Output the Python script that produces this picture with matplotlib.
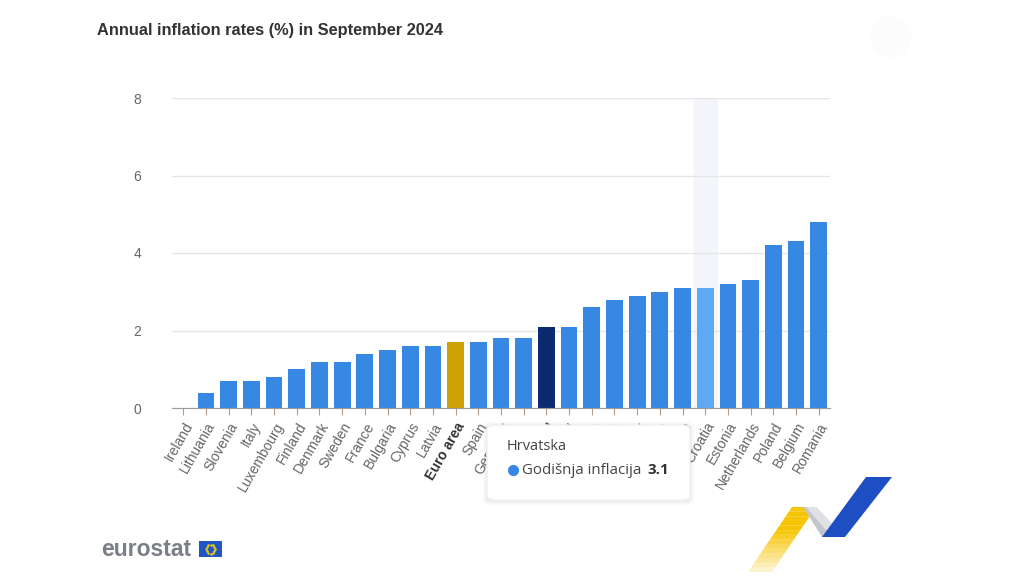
import numpy as np
import matplotlib
matplotlib.use('Agg')
import matplotlib.pyplot as plt
from matplotlib.patches import FancyBboxPatch, Polygon, Rectangle

countries = ['Ireland', 'Lithuania', 'Slovenia', 'Italy', 'Luxembourg', 'Finland',
             'Denmark', 'Sweden', 'France', 'Bulgaria', 'Cyprus', 'Latvia',
             'Euro area', 'Spain', 'Germany', 'Malta', 'EU', 'Portugal', 'Czechia',
             'Austria', 'Hungary', 'Slovakia', 'Greece', 'Croatia', 'Estonia',
             'Netherlands', 'Poland', 'Belgium', 'Romania']
rates = [0.0, 0.4, 0.7, 0.7, 0.8, 1.0, 1.2, 1.2, 1.4, 1.5, 1.6, 1.6,
         1.7, 1.7, 1.8, 1.8, 2.1, 2.1, 2.6, 2.8, 2.9, 3.0, 3.1, 3.1, 3.2,
         3.3, 4.2, 4.3, 4.8]
yticks = [0, 2, 4, 6, 8]

hover = 'Croatia'
tip_title = 'Hrvatska'
tip_series = 'Godišnja inflacija'

plt.rcParams['font.family'] = ['Liberation Sans', 'DejaVu Sans']

W, H = 1024, 576
fig = plt.figure(figsize=(W / 100, H / 100), dpi=100)
ax = fig.add_axes([172 / W, 1 - 408 / H, (830 - 172) / W, (408 - 98) / H])

colors = []
for c in countries:
    if c == 'Euro area':
        colors.append('#cfa208')
    elif c == 'EU':
        colors.append('#0c2a70')
    elif c == hover:
        colors.append('#5ea8f4')
    else:
        colors.append('#3688e2')

x = np.arange(len(countries))
hi = countries.index(hover)
ax.axvspan(hi - 0.5, hi + 0.5, color='#f3f5fa', zorder=0)
ax.bar(x, rates, width=0.74, color=colors, zorder=2)

ax.set_xlim(-0.5, len(countries) - 0.5)
ax.set_ylim(0, 8)
ax.set_yticks(yticks)
ax.yaxis.grid(True, color='#e6e6e6', linewidth=1)
ax.set_axisbelow(True)
for s in ['top', 'right', 'left']:
    ax.spines[s].set_visible(False)
ax.spines['bottom'].set_color('#a09a94')
ax.tick_params(axis='y', length=0, pad=22, labelsize=10, labelcolor='#666666')
ax.tick_params(axis='x', length=5, color='#b89a86', labelsize=10, labelcolor='#666666')
ax.set_xticks(x)
ax.set_xticklabels(countries, rotation=60, ha='right', rotation_mode='anchor')
for lab in ax.get_xticklabels():
    if lab.get_text() in ('Euro area', 'EU'):
        lab.set_fontweight('bold')
        lab.set_color('#333333')

fig.text(97 / W, 1 - 31 / H, 'Annual inflation rates (%) in September 2024',
         fontsize=11.8, fontweight='bold', color='#333333', va='center')

# faint circle top right
fig.add_artist(plt.Line2D([890 / W], [1 - 36 / H], marker='o', markersize=29,
                          color='#fcfcfc', linestyle='none', transform=fig.transFigure))

# tooltip
for i, a in enumerate([0.015, 0.02, 0.03]):
    d = (3 - i) * 1.5
    fig.patches.append(FancyBboxPatch((487 / W - d / W, 1 - 500 / H - (d + 1) / H),
                                      203 / W + 2 * d / W, 75 / H + 2 * d / H,
                                      boxstyle='round,pad=0,rounding_size=0.008',
                                      transform=fig.transFigure, facecolor='black',
                                      alpha=a, edgecolor='none', zorder=5))
fig.patches.append(FancyBboxPatch((487 / W, 1 - 500 / H), 203 / W, 75 / H,
                                  boxstyle='round,pad=0,rounding_size=0.008',
                                  transform=fig.transFigure, facecolor='white',
                                  edgecolor='#f0f0f0', zorder=6))
tipfont = ['Open Sans', 'DejaVu Sans']
fig.text(507 / W, 1 - 447 / H, tip_title, fontsize=10.5, color='#444444',
         va='center', zorder=7, family=tipfont)
fig.add_artist(plt.Line2D([513 / W], [1 - 470 / H], marker='o', markersize=7,
                          color='#3688e2', linestyle='none', transform=fig.transFigure,
                          zorder=7))
fig.text(522 / W, 1 - 470 / H, tip_series, fontsize=10.8, color='#444444',
         va='center', zorder=7, family=tipfont)
fig.text(647 / W, 1 - 470 / H, f'{rates[hi]:.1f}', fontsize=10.8, fontweight='bold',
         color='#333333', va='center', zorder=7, family=tipfont)

# eurostat logo
fig.text(101 / W, 1 - 549 / H, 'eurostat', fontsize=16.5, fontweight='bold',
         color='#7a7f86', va='center')
fig.patches.append(Rectangle((199 / W, 1 - 557 / H), 23 / W, 16 / H,
                             transform=fig.transFigure, facecolor='#1f55c4',
                             edgecolor='none'))
ang = np.linspace(0, 2 * np.pi, 12, endpoint=False)
fig.add_artist(plt.Line2D((210.5 + 4.5 * np.cos(ang)) / W, 1 - (549 + 4.5 * np.sin(ang)) / H,
                          linestyle='none', marker='o', markersize=0.8,
                          color='#f5d000', transform=fig.transFigure))

# decorative swoosh
def poly(pts, color, alpha=1.0):
    p = [(px / W, 1 - py / H) for px, py in pts]
    fig.patches.append(Polygon(p, closed=True, transform=fig.transFigure,
                               facecolor=color, edgecolor='none', alpha=alpha))

n = 14
for i in range(n):
    t0, t1 = i / n, (i + 1) / n
    y0, y1 = 572 - 65 * t0, 572 - 65 * t1
    xl0, xl1 = 748 + 44 * t0, 748 + 44 * t1
    poly([(xl0, y0), (xl1, y1), (xl1 + 24, y1), (xl0 + 24, y0)], '#f6c400',
         alpha=min(1.0, 0.1 + 1.3 * t1))
poly([(803, 507), (816, 507), (845, 537), (822, 537)], '#c3c6cc')
poly([(806, 507), (816, 507), (838, 530), (826, 530)], '#dfe1e5')
poly([(822, 537), (866, 477), (892, 477), (845, 537)], '#1e4fc2')

fig.savefig('out.png', dpi=100, facecolor='white')
